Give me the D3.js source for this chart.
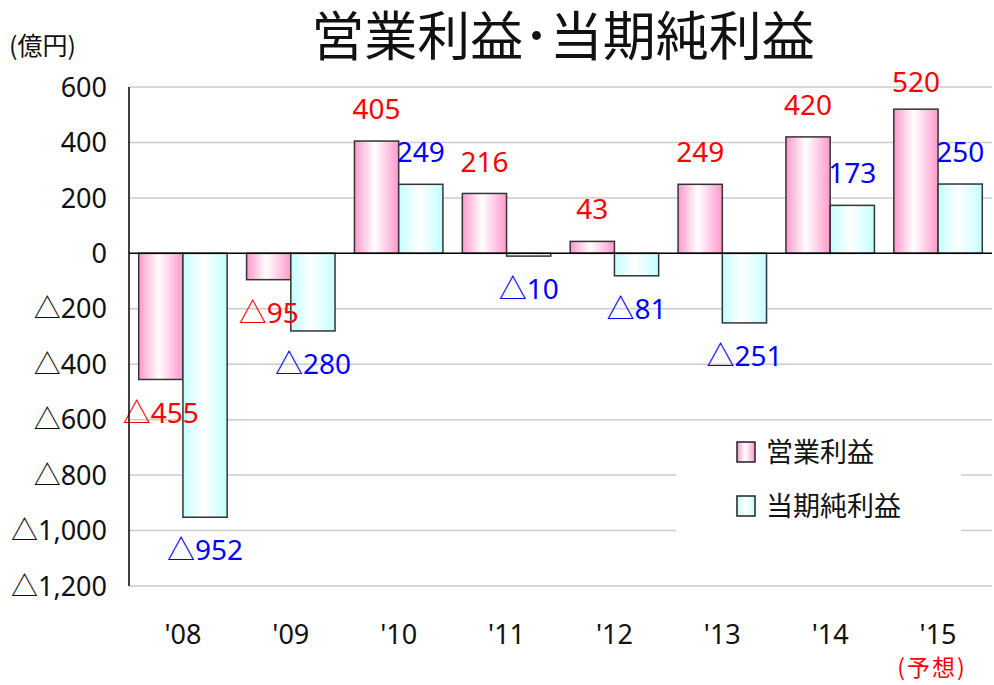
<!DOCTYPE html>
<html>
<head>
<meta charset="utf-8">
<script src="https://cdn.jsdelivr.net/npm/d3@7"></script>
<style>
  body { margin: 0; background: #fff; }
  text { font-family: "Noto Sans", "Noto Sans CJK JP", sans-serif; }
  .jp { font-family: "Noto Sans CJK JP", sans-serif; }
</style>
</head>
<body>
<svg width="994" height="685"></svg>
<script>
// values in 億円
var years = ["'08", "'09", "'10", "'11", "'12", "'13", "'14", "'15"];
var series = ["営業利益", "当期純利益"];
var operating = [-455, -95, 405, 216, 43, 249, 420, 520];
var netIncome = [-952, -280, 249, -10, -81, -251, 173, 250];
var yTicks = [600, 400, 200, 0, -200, -400, -600, -800, -1000, -1200];

var svg = d3.select("svg"),
    width = +svg.attr("width"),
    height = +svg.attr("height");

var defs = svg.append("defs");
function grad(id, edge) {
  var g = defs.append("linearGradient").attr("id", id)
    .attr("x1", "0%").attr("x2", "100%").attr("y1", "0%").attr("y2", "0%");
  g.append("stop").attr("offset", "0%").attr("stop-color", edge);
  g.append("stop").attr("offset", "45%").attr("stop-color", "#ffffff");
  g.append("stop").attr("offset", "100%").attr("stop-color", edge);
}
grad("gPink", "#ff99cc");
grad("gCyan", "#c4ffff");
var fills = ["url(#gPink)", "url(#gCyan)"];
var labelColors = ["#ff0000", "#0000ff"];

var y = d3.scaleLinear().domain([-1200, 600]).range([586, 87]);
var x0 = d3.scaleBand().domain(years).range([129, 992]).paddingInner(0.18).paddingOuter(0.09);
var x1 = d3.scaleBand().domain(series).range([0, x0.bandwidth()]);

function fmt(v) { return v < 0 ? "△" + d3.format(",")(-v) : d3.format(",")(v); }

// grid
svg.append("g").selectAll("line")
  .data(yTicks.filter(function(d) { return d !== 0; }))
  .enter().append("line")
  .attr("x1", 129).attr("x2", 992)
  .attr("y1", function(d) { return y(d); })
  .attr("y2", function(d) { return y(d); })
  .attr("stroke", "#cccccc").attr("stroke-width", 1.5);

// y tick labels
svg.append("g").selectAll("text")
  .data(yTicks)
  .enter().append("text")
  .attr("x", 107)
  .attr("y", function(d) { return y(d); })
  .attr("dy", "0.36em")
  .attr("text-anchor", "end")
  .attr("font-size", 27)
  .attr("fill", "#111")
  .text(fmt);

// legend box knocks out the grid
svg.append("rect").attr("x", 676).attr("y", 428).attr("width", 285).attr("height", 118).attr("fill", "#fff");

// bars
var rows = years.map(function(yr, i) { return { year: yr, vals: [operating[i], netIncome[i]] }; });
var groups = svg.append("g").selectAll("g")
  .data(rows)
  .enter().append("g")
  .attr("transform", function(d) { return "translate(" + x0(d.year) + ",0)"; });

groups.selectAll("rect")
  .data(function(d) { return d.vals.map(function(v, k) { return { k: k, v: v }; }); })
  .enter().append("rect")
  .attr("x", function(d) { return x1(series[d.k]); })
  .attr("width", x1.bandwidth())
  .attr("y", function(d) { return y(Math.max(0, d.v)); })
  .attr("height", function(d) { return Math.abs(y(d.v) - y(0)); })
  .attr("fill", function(d) { return fills[d.k]; })
  .attr("stroke", "#333").attr("stroke-width", 1.5);

// value labels, kept from rising far above the plot top
groups.selectAll("text")
  .data(function(d) { return d.vals.map(function(v, k) { return { k: k, v: v }; }); })
  .enter().append("text")
  .attr("x", function(d) { return x1(series[d.k]) + x1.bandwidth() / 2; })
  .attr("y", function(d) { return d.v < 0 ? y(d.v) + 33 : Math.max(y(d.v) - 32, y(600) - 5); })
  .attr("dy", "0.36em")
  .attr("text-anchor", "middle")
  .attr("font-size", 28)
  .attr("fill", function(d) { return labelColors[d.k]; })
  .text(function(d) { return fmt(d.v); });

// axes lines
svg.append("line").attr("x1", 129).attr("x2", 992).attr("y1", y(0)).attr("y2", y(0))
  .attr("stroke", "#000").attr("stroke-width", 1.5);
svg.append("line").attr("x1", 129).attr("x2", 129).attr("y1", y(600)).attr("y2", y(-1200))
  .attr("stroke", "#000").attr("stroke-width", 1.5);

// x labels
svg.append("g").selectAll("text")
  .data(years)
  .enter().append("text")
  .attr("x", function(d) { return x0(d) + x0.bandwidth() / 2; })
  .attr("y", 634)
  .attr("dy", "0.36em")
  .attr("text-anchor", "middle")
  .attr("font-size", 27)
  .attr("fill", "#111")
  .text(function(d) { return d; });

svg.append("text").attr("class", "jp")
  .attr("x", x0("'15") + x0.bandwidth() / 2 - 6).attr("y", 668).attr("dy", "0.36em")
  .attr("text-anchor", "middle").attr("font-size", 23).attr("fill", "#ff0000")
  .attr("letter-spacing", 2)
  .text("(予想)");

// legend
var legend = svg.append("g").selectAll("g")
  .data(series)
  .enter().append("g")
  .attr("transform", function(d, i) { return "translate(737," + (442 + i * 54) + ")"; });
legend.append("rect").attr("width", 18).attr("height", 20)
  .attr("fill", function(d, i) { return fills[i]; })
  .attr("stroke", "#222").attr("stroke-width", 1.5);
legend.append("text").attr("class", "jp").attr("x", 29).attr("y", 10).attr("dy", "0.36em")
  .attr("font-size", 27).attr("fill", "#111")
  .text(function(d) { return d; });

// title and unit
svg.append("text").attr("class", "jp").attr("x", 563).attr("y", 37).attr("dy", "0.36em")
  .attr("text-anchor", "middle").attr("font-size", 53).attr("fill", "#111")
  .text("営業利益･当期純利益");
svg.append("text").attr("class", "jp").attr("x", 9).attr("y", 46).attr("dy", "0.36em")
  .attr("font-size", 25).attr("fill", "#111")
  .text("(億円)");
</script>
</body>
</html>
